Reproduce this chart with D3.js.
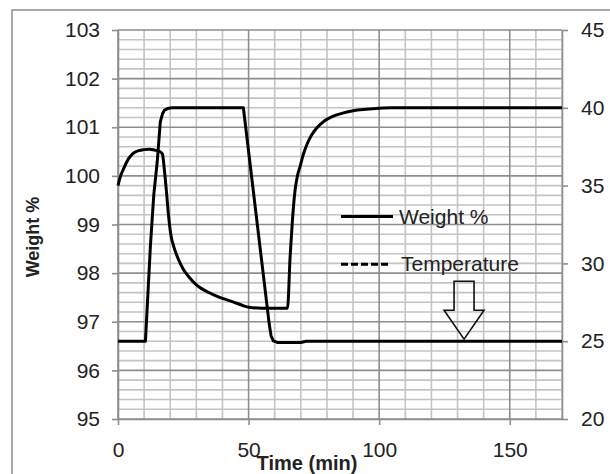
<!DOCTYPE html>
<html>
<head>
<meta charset="utf-8">
<script src="https://cdn.jsdelivr.net/npm/d3@7/dist/d3.min.js"></script>
<style>
  html, body { margin: 0; padding: 0; background: #fff; }
  svg { display: block; }
  text { font-family: "Liberation Sans", Arial, sans-serif; fill: #222; }
</style>
</head>
<body>
<svg id="chart" width="610" height="474"></svg>
<script>
// Weight % (left axis) over time in minutes
const weightTime = [0, 1, 2, 3, 4, 5, 6, 8, 10, 12, 14, 16, 17, 17.8, 18.6, 19.4, 20.2, 21.5, 23, 25, 27, 30, 33, 36, 40, 44, 48, 50, 55, 60, 64.9, 65.9, 66.8, 67.8, 68.7, 69.7, 71, 72.3, 74, 76, 79, 82, 86, 90, 95, 100, 105, 170];
const weightValues = [99.8, 100.0, 100.13, 100.25, 100.35, 100.42, 100.47, 100.52, 100.54, 100.55, 100.53, 100.5, 100.45, 100.1, 99.65, 99.15, 98.8, 98.52, 98.3, 98.08, 97.93, 97.76, 97.65, 97.57, 97.48, 97.41, 97.33, 97.3, 97.28, 97.28, 97.28, 98.34, 99.1, 99.71, 100.0, 100.19, 100.45, 100.64, 100.83, 100.98, 101.13, 101.22, 101.29, 101.34, 101.37, 101.39, 101.4, 101.4];

// Temperature in °C (right axis) over time in minutes
const tempTime = [0, 10.5, 11.1, 12.4, 13.7, 15, 16.2, 17, 17.8, 19, 20.7, 48, 57.9, 58.6, 59.5, 61, 70, 72, 170];
const tempValues = [25, 25, 26.9, 31.1, 34.4, 36.5, 39.1, 39.6, 39.85, 39.95, 40, 40, 26.1, 25.35, 25.02, 24.92, 24.92, 25, 25];

// Axis ticks
const xTicks = [0, 50, 100, 150];
const weightTicks = [95, 96, 97, 98, 99, 100, 101, 102, 103];
const tempTicks = [20, 25, 30, 35, 40, 45];

// Legend entries
const legendLabels = ["Weight %", "Temperature"];

const svg = d3.select("#chart");
const plotLeft = 118, plotRight = 562, plotTop = 30, plotBottom = 419;

const x = d3.scaleLinear().domain([0, 170]).range([plotLeft, plotRight]);
const yW = d3.scaleLinear().domain([95, 103]).range([plotBottom, plotTop]);
const yT = d3.scaleLinear().domain([20, 45]).range([plotBottom, plotTop]);

// outer frame
svg.append("rect")
  .attr("x", 12).attr("y", 10)
  .attr("width", 620).attr("height", 480)
  .attr("fill", "none").attr("stroke", "#8c8c8c").attr("stroke-width", 1.5);

// grid: minor lines first, then major
const grid = svg.append("g");
const minorX = d3.range(10, 171, 10).filter(v => v % 50 !== 0);
const minorY = d3.range(0, 41).map(i => 95 + i * 0.2).filter(v => Math.abs(v - Math.round(v)) > 1e-6);

grid.selectAll("line.mx").data(minorX).join("line").attr("class", "mx")
  .attr("x1", d => x(d)).attr("x2", d => x(d))
  .attr("y1", plotTop).attr("y2", plotBottom)
  .attr("stroke", "#c4c4c4").attr("stroke-width", 1.6);
grid.selectAll("line.my").data(minorY).join("line").attr("class", "my")
  .attr("x1", plotLeft).attr("x2", plotRight)
  .attr("y1", d => yW(d)).attr("y2", d => yW(d))
  .attr("stroke", "#c4c4c4").attr("stroke-width", 1.6);
grid.selectAll("line.Mx").data(xTicks).join("line").attr("class", "Mx")
  .attr("x1", d => x(d)).attr("x2", d => x(d))
  .attr("y1", plotTop).attr("y2", plotBottom)
  .attr("stroke", "#8e8e8e").attr("stroke-width", 1.6);
grid.selectAll("line.My").data(weightTicks).join("line").attr("class", "My")
  .attr("x1", plotLeft).attr("x2", plotRight)
  .attr("y1", d => yW(d)).attr("y2", d => yW(d))
  .attr("stroke", "#8e8e8e").attr("stroke-width", 1.6);

// axes
function styleAxis(g) {
  g.select(".domain").attr("stroke", "#8e8e8e").attr("stroke-width", 1.6);
  g.selectAll(".tick line").attr("stroke", "#8e8e8e").attr("stroke-width", 1.6);
  g.selectAll(".tick text")
    .style("font-family", "'Liberation Sans', Arial, sans-serif")
    .style("font-size", "21px").attr("fill", "#222");
}

svg.append("g")
  .attr("transform", `translate(0,${plotBottom})`)
  .call(d3.axisBottom(x).tickValues(xTicks).tickSize(6).tickPadding(17).tickSizeOuter(0))
  .call(styleAxis);

svg.append("g")
  .attr("transform", `translate(${plotLeft},0)`)
  .call(d3.axisLeft(yW).tickValues(weightTicks).tickSize(6).tickPadding(12).tickSizeOuter(0))
  .call(styleAxis);

svg.append("g")
  .attr("transform", `translate(${plotRight},0)`)
  .call(d3.axisRight(yT).tickValues(tempTicks).tickSize(6).tickPadding(13).tickSizeOuter(0))
  .call(styleAxis);

// series
const weightData = weightTime.map((t, i) => [t, weightValues[i]]);
const tempData = tempTime.map((t, i) => [t, tempValues[i]]);

svg.append("path")
  .datum(tempData)
  .attr("fill", "none").attr("stroke", "#000").attr("stroke-width", 3)
  .attr("stroke-linejoin", "round")
  .attr("d", d3.line().x(d => x(d[0])).y(d => yT(d[1])));

svg.append("path")
  .datum(weightData)
  .attr("fill", "none").attr("stroke", "#000").attr("stroke-width", 3)
  .attr("stroke-linejoin", "round")
  .attr("d", d3.line().x(d => x(d[0])).y(d => yW(d[1])).curve(d3.curveMonotoneX));

// legend
const legend = svg.append("g");
const legendY = [216.5, 264.3];
legend.selectAll("line").data(legendLabels).join("line")
  .attr("x1", 341).attr("x2", (d, i) => i === 0 ? 393 : 389)
  .attr("y1", (d, i) => legendY[i]).attr("y2", (d, i) => legendY[i])
  .attr("stroke", "#000").attr("stroke-width", 3)
  .attr("stroke-dasharray", (d, i) => i === 0 ? null : "7,3,7,3,7,3,7,3,7,3,2");
legend.selectAll("text").data(legendLabels).join("text")
  .attr("x", (d, i) => i === 0 ? 399 : 401)
  .attr("y", (d, i) => legendY[i] + 7)
  .style("font-size", "21px")
  .text(d => d);

// hollow arrow pointing down at the 25 °C line
const arrowTip = [132.5, 25];
const ax = x(arrowTip[0]), ay = yT(arrowTip[1]) - 2;
svg.append("path")
  .attr("d", `M${ax - 10},${ay - 58} L${ax + 10},${ay - 58} L${ax + 10},${ay - 29} L${ax + 20},${ay - 29} L${ax},${ay} L${ax - 20},${ay - 29} L${ax - 10},${ay - 29} Z`)
  .attr("fill", "none").attr("stroke", "#111").attr("stroke-width", 1.6);

// axis titles
svg.append("text")
  .attr("transform", "translate(39,237) rotate(-90)")
  .attr("text-anchor", "middle")
  .style("font-size", "18px").style("font-weight", "bold")
  .text("Weight %");

svg.append("text")
  .attr("x", 307).attr("y", 470)
  .attr("text-anchor", "middle")
  .style("font-size", "20px").style("font-weight", "bold")
  .text("Time (min)");
</script>
</body>
</html>
